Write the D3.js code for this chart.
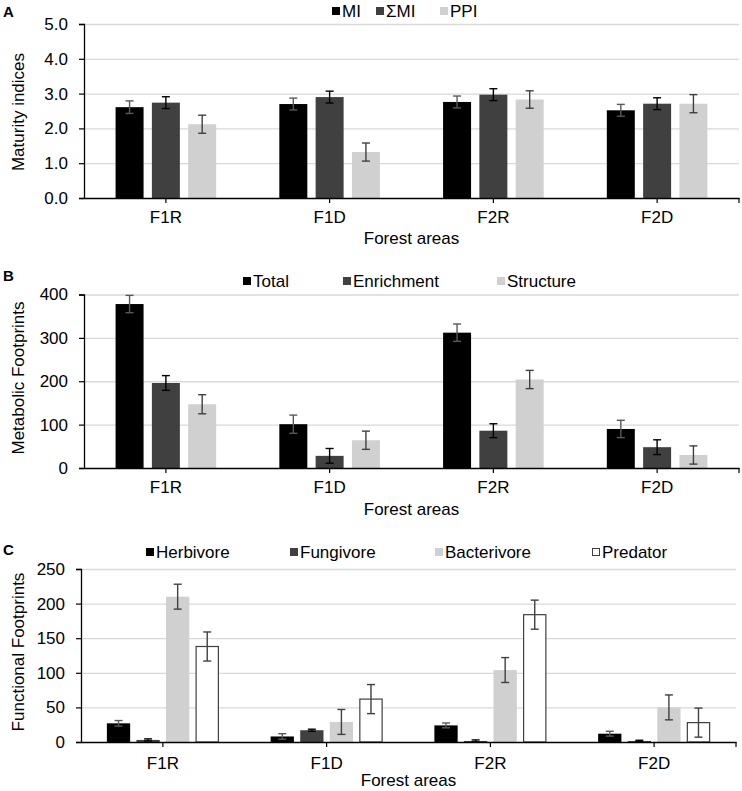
<!DOCTYPE html>
<html>
<head>
<meta charset="utf-8">
<script src="https://cdn.jsdelivr.net/npm/d3@7"></script>
<style>
  body { margin: 0; background: #fff; }
  svg { display: block; font-family: "Liberation Sans", Arial, sans-serif; }
</style>
</head>
<body>
<svg id="chart" width="742" height="791"></svg>
<script>
// ---------- data ----------
const categories = ["F1R", "F1D", "F2R", "F2D"];

// Panel A: maturity indices
const miValues  = [2.61, 2.70, 2.76, 2.52];
const miErr     = [0.18, 0.17, 0.17, 0.17];
const smiValues = [2.74, 2.90, 2.97, 2.71];
const smiErr    = [0.17, 0.17, 0.17, 0.17];
const ppiValues = [2.12, 1.32, 2.83, 2.71];
const ppiErr    = [0.26, 0.26, 0.25, 0.26];
const aTicks = [0, 1, 2, 3, 4, 5];

// Panel B: metabolic footprints
const totalValues  = [378, 101, 312, 90];
const totalErr     = [20, 21, 20, 20];
const enrichValues = [196, 28, 86, 48];
const enrichErr    = [17, 17, 16, 17];
const structValues = [147, 64, 204, 30];
const structErr    = [22, 21, 21, 21];
const bTicks = [0, 100, 200, 300, 400];

// Panel C: functional footprints
const herbValues = [27, 8, 24, 12];
const herbErr    = [4, 4, 3.5, 3.5];
const fungValues = [3, 17, 1.5, 1.5];
const fungErr    = [1.5, 1.5, 1.5, 1];
const bactValues = [210, 29, 104, 50];
const bactErr    = [18, 18, 18, 18];
const predValues = [138, 62, 184, 28];
const predErr    = [21, 21, 21, 21];
const cTicks = [0, 50, 100, 150, 200, 250];

// ---------- drawing ----------
const svg = d3.select("#chart");
const FONT = 17;

function drawPanel(cfg) {
  const g = svg.append("g");
  const x0 = d3.scaleBand().domain(categories).range([cfg.left, cfg.right]).padding(0);
  const band = x0.bandwidth();
  const n = cfg.series.length;
  const x1 = d3.scaleBand().domain(d3.range(n))
    .range([(band - cfg.groupW) / 2, (band + cfg.groupW) / 2])
    .paddingInner(cfg.innerPad).paddingOuter(0);
  const y = d3.scaleLinear().domain([0, cfg.yMax]).range([cfg.bottom, cfg.top]);

  // gridlines
  g.append("g")
    .attr("transform", `translate(${cfg.left},0)`)
    .call(d3.axisLeft(y).tickValues(cfg.ticks.filter(t => t > 0)).tickSize(-(cfg.right - cfg.left)).tickFormat(""))
    .call(s => s.select(".domain").remove())
    .call(s => s.selectAll("line").attr("stroke", "#d9d9d9").attr("stroke-width", 1.3));

  // bars
  cfg.series.forEach((s, si) => {
    g.append("g").selectAll("rect")
      .data(categories.map((c, i) => ({ c, v: s.values[i], e: s.err[i] })))
      .join("rect")
      .attr("x", d => x0(d.c) + x1(si) + (s.stroke ? 0.5 : 0))
      .attr("y", d => y(d.v))
      .attr("width", x1.bandwidth() - (s.stroke ? 1 : 0))
      .attr("height", d => y(0) - y(d.v))
      .attr("fill", s.color)
      .attr("stroke", s.stroke || "none")
      .attr("stroke-width", s.stroke ? 1.2 : 0);
  });

  // error bars
  cfg.series.forEach((s, si) => {
    const eg = g.append("g").attr("stroke", s.errColor).attr("stroke-width", 1.4);
    categories.forEach((c, i) => {
      const cx = x0(c) + x1(si) + x1.bandwidth() / 2;
      const hi = y(s.values[i] + s.err[i]);
      const lo = y(Math.max(0, s.values[i] - s.err[i]));
      eg.append("line").attr("x1", cx).attr("x2", cx).attr("y1", hi).attr("y2", lo);
      eg.append("line").attr("x1", cx - 4).attr("x2", cx + 4).attr("y1", hi).attr("y2", hi);
      eg.append("line").attr("x1", cx - 4).attr("x2", cx + 4).attr("y1", lo).attr("y2", lo);
    });
  });

  // y axis
  g.append("g")
    .attr("transform", `translate(${cfg.left},0)`)
    .call(d3.axisLeft(y).tickValues(cfg.ticks).tickSize(5).tickPadding(11).tickFormat(cfg.fmt))
    .call(s => s.select(".domain").attr("stroke", "#000").attr("stroke-width", 1.3))
    .call(s => s.selectAll(".tick line").attr("stroke", "#000").attr("stroke-width", 1.2))
    .call(s => s.selectAll("text").attr("font-size", FONT).attr("fill", "#000").attr("font-family", "Liberation Sans, Arial, sans-serif"));

  // x axis
  const xa = g.append("g")
    .attr("transform", `translate(0,${cfg.bottom})`)
    .call(d3.axisBottom(x0).tickSize(5).tickPadding(cfg.xPad).tickSizeOuter(0))
    .call(s => s.select(".domain").attr("stroke", "#000").attr("stroke-width", 1.3))
    .call(s => s.selectAll(".tick line").attr("stroke", "#000").attr("stroke-width", 1.2))
    .call(s => s.selectAll("text").attr("font-size", FONT).attr("fill", "#000").attr("font-family", "Liberation Sans, Arial, sans-serif"));
  xa.append("line").attr("x1", cfg.right).attr("x2", cfg.right).attr("y1", 0).attr("y2", 5)
    .attr("stroke", "#000").attr("stroke-width", 1.2);

  // axis titles
  g.append("text").attr("x", (cfg.left + cfg.right) / 2).attr("y", cfg.xTitleY)
    .attr("text-anchor", "middle").attr("font-size", FONT).text("Forest areas");
  g.append("text")
    .attr("transform", `translate(24,${cfg.yTitleY}) rotate(-90)`)
    .attr("text-anchor", "middle").attr("font-size", FONT).text(cfg.yTitle);

  // panel letter
  g.append("text").attr("x", 3).attr("y", cfg.letterY)
    .attr("font-size", 15).attr("font-weight", "bold").text(cfg.letter);

  // legend
  cfg.series.forEach((s, si) => {
    const lx = cfg.legendX[si];
    g.append("rect").attr("x", lx + (s.stroke ? 0.5 : 0)).attr("y", cfg.legendY - 4 + (s.stroke ? 0.5 : 0))
      .attr("width", s.stroke ? 7 : 8).attr("height", s.stroke ? 7 : 8)
      .attr("fill", s.color).attr("stroke", s.stroke || "none").attr("stroke-width", 1);
    g.append("text").attr("x", lx + 10).attr("y", cfg.legendY).attr("dy", "0.36em")
      .attr("font-size", FONT).text(s.name);
  });
}

drawPanel({
  letter: "A", letterY: 17,
  left: 84, right: 739, top: 24, bottom: 198, yMax: 5,
  ticks: aTicks, fmt: d3.format(".1f"),
  groupW: 100.6, innerPad: 0.229, xPad: 8,
  xTitleY: 244, yTitleY: 112, yTitle: "Maturity indices",
  legendY: 11, legendX: [332, 376, 440],
  series: [
    { name: "MI",  values: miValues,  err: miErr,  color: "#000000", errColor: "#595959" },
    { name: "ΣMI", values: smiValues, err: smiErr, color: "#404040", errColor: "#000000" },
    { name: "PPI", values: ppiValues, err: ppiErr, color: "#d0d0d0", errColor: "#404040" }
  ]
});

drawPanel({
  letter: "B", letterY: 281,
  left: 84, right: 739, top: 294.5, bottom: 468, yMax: 400,
  ticks: bTicks, fmt: d3.format("d"),
  groupW: 100.6, innerPad: 0.229, xPad: 8,
  xTitleY: 515, yTitleY: 378, yTitle: "Metabolic Footprints",
  legendY: 281, legendX: [243, 343, 497],
  series: [
    { name: "Total",      values: totalValues,  err: totalErr,  color: "#000000", errColor: "#595959" },
    { name: "Enrichment", values: enrichValues, err: enrichErr, color: "#404040", errColor: "#000000" },
    { name: "Structure",  values: structValues, err: structErr, color: "#d0d0d0", errColor: "#404040" }
  ]
});

drawPanel({
  letter: "C", letterY: 555,
  left: 81, right: 736, top: 569, bottom: 742, yMax: 250,
  ticks: cTicks, fmt: d3.format("d"),
  groupW: 112, innerPad: 0.213, xPad: 10,
  xTitleY: 786, yTitleY: 652, yTitle: "Functional Footprints",
  legendY: 552, legendX: [146, 290, 435, 592],
  series: [
    { name: "Herbivore",   values: herbValues, err: herbErr, color: "#000000", errColor: "#595959" },
    { name: "Fungivore",   values: fungValues, err: fungErr, color: "#404040", errColor: "#000000" },
    { name: "Bacterivore", values: bactValues, err: bactErr, color: "#d0d0d0", errColor: "#404040" },
    { name: "Predator",    values: predValues, err: predErr, color: "#ffffff", stroke: "#404040", errColor: "#404040" }
  ]
});
</script>
</body>
</html>
